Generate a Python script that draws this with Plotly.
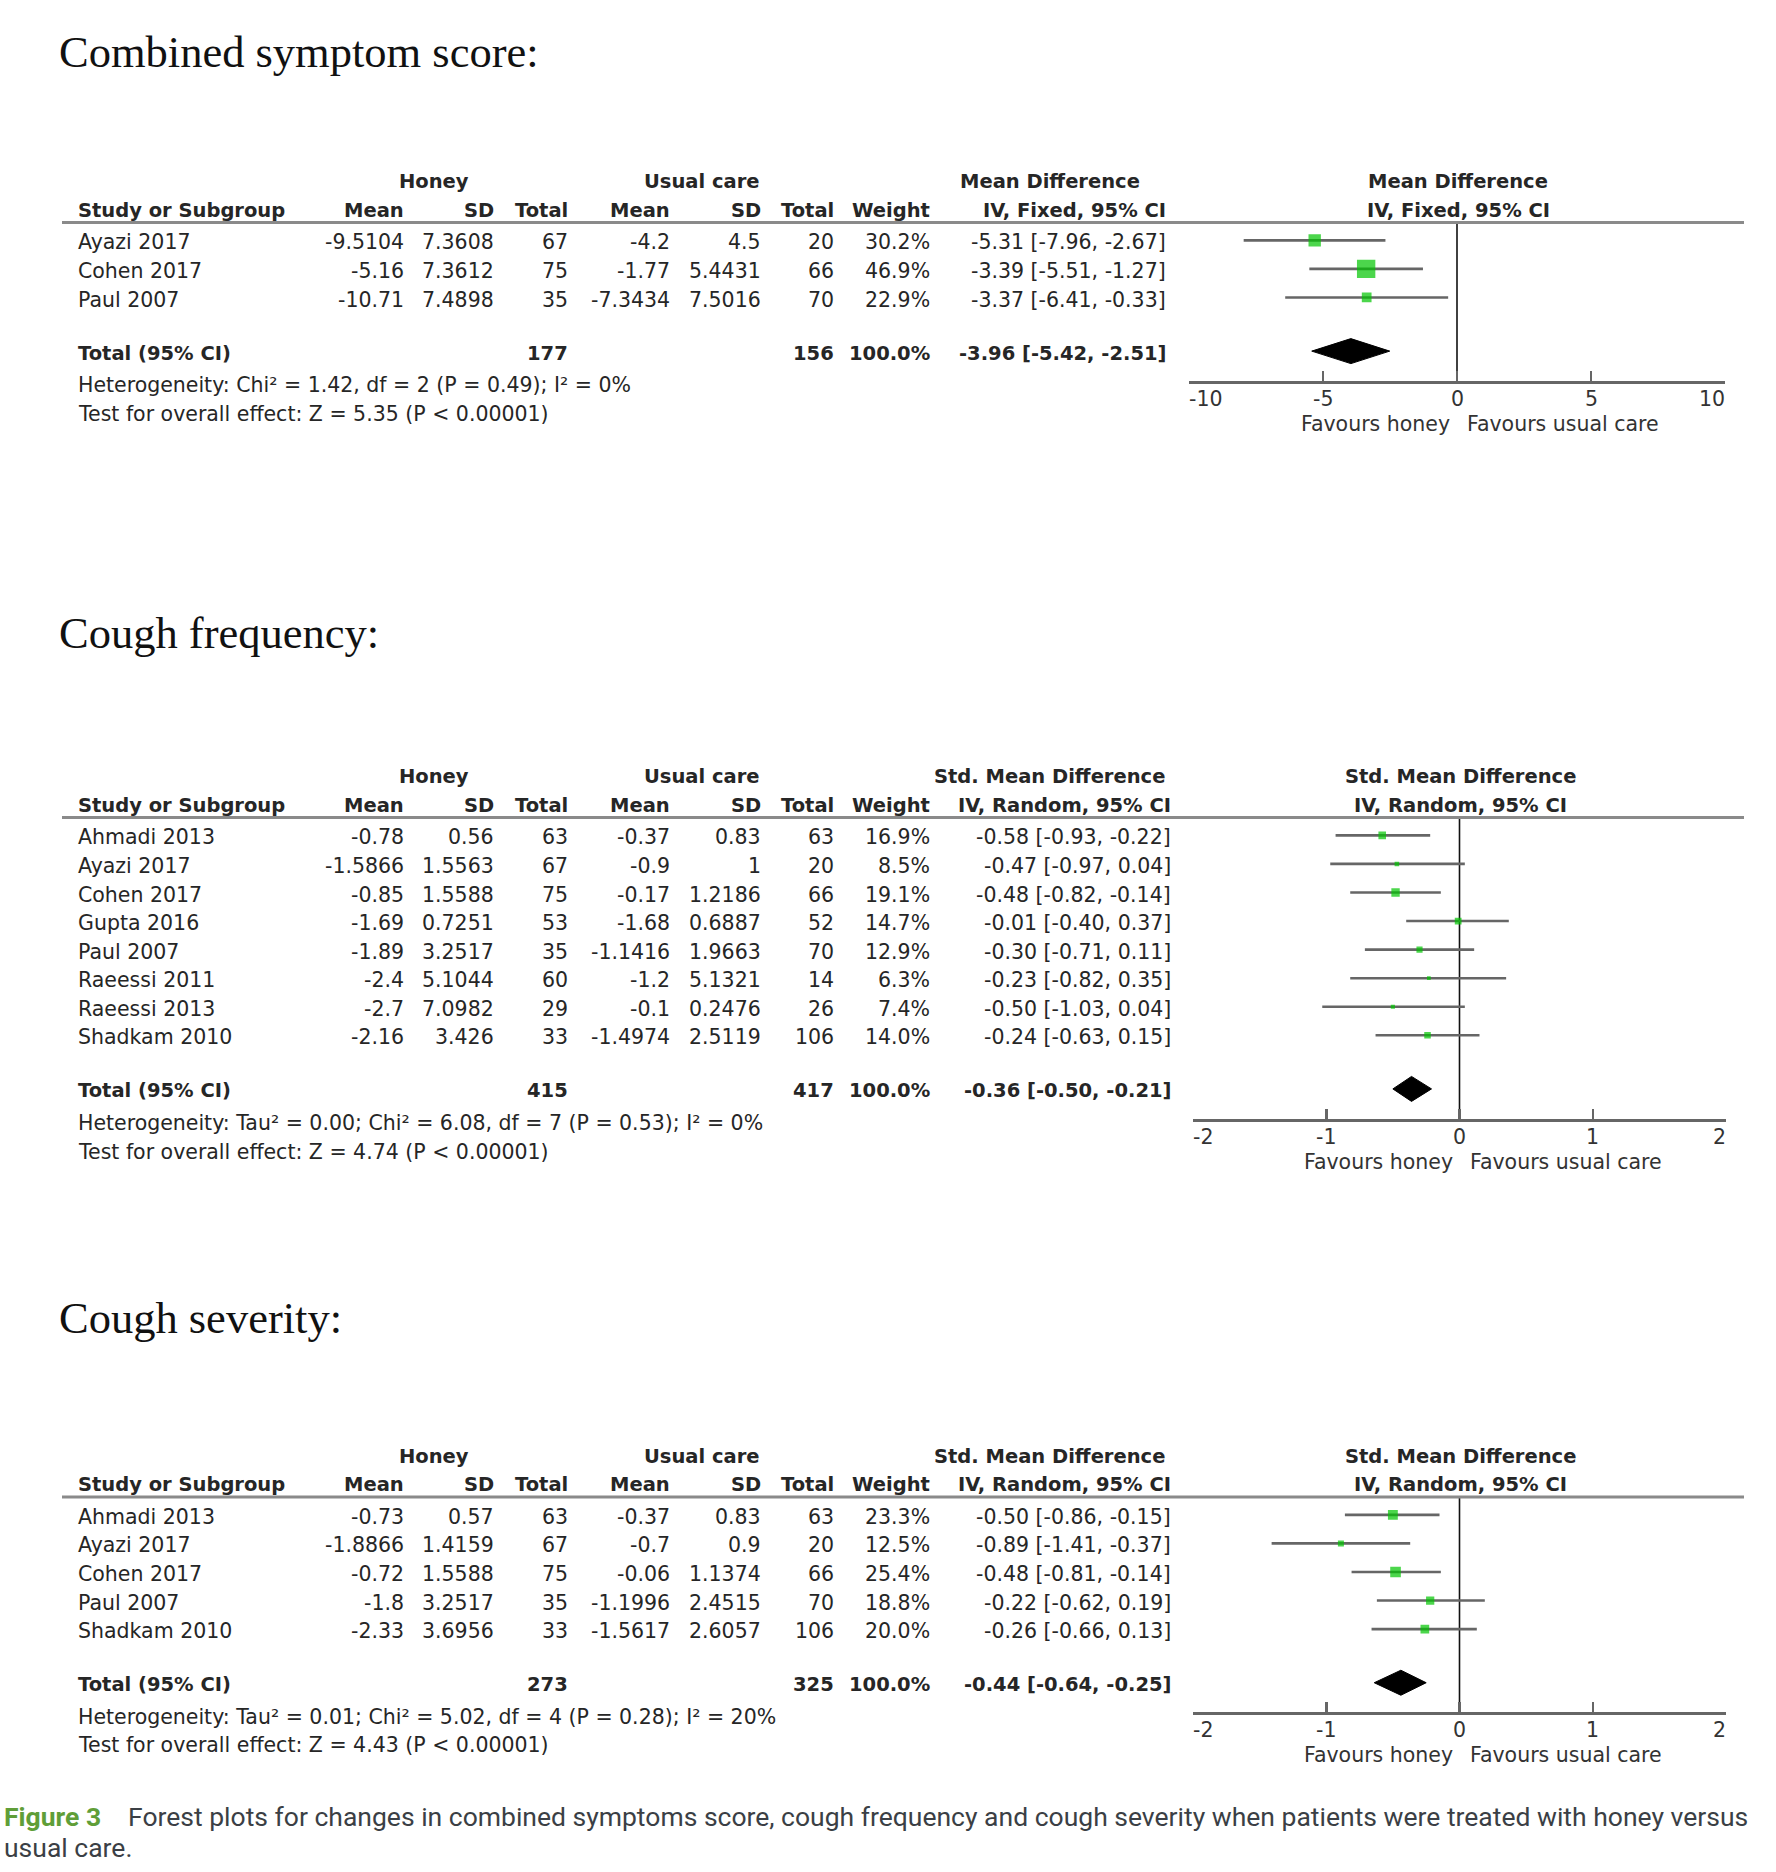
import plotly.graph_objects as go

# ---------------- data ----------------
# Panel 1: Combined symptom score (Mean Difference, IV, Fixed)
studies1 = ["Ayazi 2017", "Cohen 2017", "Paul 2007"]
honey_mean1 = [-9.5104, -5.16, -10.71]
honey_sd1 = [7.3608, 7.3612, 7.4898]
honey_n1 = [67, 75, 35]
uc_mean1 = [-4.2, -1.77, -7.3434]
uc_sd1 = [4.5, 5.4431, 7.5016]
uc_n1 = [20, 66, 70]
weight1 = [30.2, 46.9, 22.9]
est1 = [-5.31, -3.39, -3.37]
lo1 = [-7.96, -5.51, -6.41]
hi1 = [-2.67, -1.27, -0.33]
pooled1 = [-3.96, -5.42, -2.51]
het1 = "Heterogeneity: Chi² = 1.42, df = 2 (P = 0.49); I² = 0%"
test1 = "Test for overall effect: Z = 5.35 (P < 0.00001)"
ticks1 = [-10, -5, 0, 5, 10]

# Panel 2: Cough frequency (Std. Mean Difference, IV, Random)
studies2 = ["Ahmadi 2013", "Ayazi 2017", "Cohen 2017", "Gupta 2016", "Paul 2007",
            "Raeessi 2011", "Raeessi 2013", "Shadkam 2010"]
honey_mean2 = [-0.78, -1.5866, -0.85, -1.69, -1.89, -2.4, -2.7, -2.16]
honey_sd2 = [0.56, 1.5563, 1.5588, 0.7251, 3.2517, 5.1044, 7.0982, 3.426]
honey_n2 = [63, 67, 75, 53, 35, 60, 29, 33]
uc_mean2 = [-0.37, -0.9, -0.17, -1.68, -1.1416, -1.2, -0.1, -1.4974]
uc_sd2 = [0.83, 1, 1.2186, 0.6887, 1.9663, 5.1321, 0.2476, 2.5119]
uc_n2 = [63, 20, 66, 52, 70, 14, 26, 106]
weight2 = [16.9, 8.5, 19.1, 14.7, 12.9, 6.3, 7.4, 14.0]
est2 = [-0.58, -0.47, -0.48, -0.01, -0.30, -0.23, -0.50, -0.24]
lo2 = [-0.93, -0.97, -0.82, -0.40, -0.71, -0.82, -1.03, -0.63]
hi2 = [-0.22, 0.04, -0.14, 0.37, 0.11, 0.35, 0.04, 0.15]
pooled2 = [-0.36, -0.50, -0.21]
het2 = "Heterogeneity: Tau² = 0.00; Chi² = 6.08, df = 7 (P = 0.53); I² = 0%"
test2 = "Test for overall effect: Z = 4.74 (P < 0.00001)"
ticks2 = [-2, -1, 0, 1, 2]

# Panel 3: Cough severity (Std. Mean Difference, IV, Random)
studies3 = ["Ahmadi 2013", "Ayazi 2017", "Cohen 2017", "Paul 2007", "Shadkam 2010"]
honey_mean3 = [-0.73, -1.8866, -0.72, -1.8, -2.33]
honey_sd3 = [0.57, 1.4159, 1.5588, 3.2517, 3.6956]
honey_n3 = [63, 67, 75, 35, 33]
uc_mean3 = [-0.37, -0.7, -0.06, -1.1996, -1.5617]
uc_sd3 = [0.83, 0.9, 1.1374, 2.4515, 2.6057]
uc_n3 = [63, 20, 66, 70, 106]
weight3 = [23.3, 12.5, 25.4, 18.8, 20.0]
est3 = [-0.50, -0.89, -0.48, -0.22, -0.26]
lo3 = [-0.86, -1.41, -0.81, -0.62, -0.66]
hi3 = [-0.15, -0.37, -0.14, 0.19, 0.13]
pooled3 = [-0.44, -0.64, -0.25]
het3 = "Heterogeneity: Tau² = 0.01; Chi² = 5.02, df = 4 (P = 0.28); I² = 20%"
test3 = "Test for overall effect: Z = 4.43 (P < 0.00001)"
ticks3 = [-2, -1, 0, 1, 2]

total_weight = 100.0
titles = ["Combined symptom score:", "Cough frequency:", "Cough severity:"]
md_heads = ["Mean Difference", "Std. Mean Difference", "Std. Mean Difference"]
md_subs = ["IV, Fixed, 95% CI", "IV, Random, 95% CI", "IV, Random, 95% CI"]
caption_label = "Figure 3"
caption_line1 = ("Forest plots for changes in combined symptoms score, cough frequency and "
                 "cough severity when patients were treated with honey versus")
caption_line2 = "usual care."

# ---------------- layout helpers ----------------
OFF = 0
FW, FH = 1776, 1872
FONT = "DejaVu Sans"
TXT = "#262626"
FS = 20.5
FSB = 19.5
GRAY = "#666666"
GREEN = "#00c400"
ROW = 28.56


def px(x):
    return (x - OFF) / FW


def py(y):
    return 1 - (y - OFF) / FH


ann = []
shapes = []


def text(x, y, s, anchor="left", size=FS, color=TXT, family=FONT, bold=False):
    if bold:
        s = f"<b>{s}</b>"
    if anchor == "left":
        x -= 2.5
    elif anchor == "right":
        x += 1
    ann.append(dict(x=px(x), y=py(y + 2), xref="paper", yref="paper", text=s,
                    showarrow=False, xanchor=anchor, yanchor="middle",
                    font=dict(family=family, size=size, color=color)))


def fmt(v):
    return f"{v:g}"


COL = dict(study=78.5, hm=404.6, hsd=495, hn=568.8, um=671, usd=761.6, un=835.4, w=930.6)

fig = go.Figure()

panels = [
    dict(title_y=50, h1=179.7, ci_right=1167.4, xdom=(1189, 1725),
         studies=studies1, hm=honey_mean1, hsd=honey_sd1, hn=honey_n1, um=uc_mean1,
         usd=uc_sd1, un=uc_n1, w=weight1, est=est1, lo=lo1, hi=hi1, pooled=pooled1,
         het=het1, test=test1, ticks=ticks1),
    dict(title_y=631, h1=774.7, ci_right=1172, xdom=(1193, 1726),
         studies=studies2, hm=honey_mean2, hsd=honey_sd2, hn=honey_n2, um=uc_mean2,
         usd=uc_sd2, un=uc_n2, w=weight2, est=est2, lo=lo2, hi=hi2, pooled=pooled2,
         het=het2, test=test2, ticks=ticks2),
    dict(title_y=1316, h1=1454.2, ci_right=1172, xdom=(1193, 1726),
         studies=studies3, hm=honey_mean3, hsd=honey_sd3, hn=honey_n3, um=uc_mean3,
         usd=uc_sd3, un=uc_n3, w=weight3, est=est3, lo=lo3, hi=hi3, pooled=pooled3,
         het=het3, test=test3, ticks=ticks3),
]

layout_axes = {}
for k, p in enumerate(panels, start=1):
    xa = "x" if k == 1 else f"x{k}"
    ya = "y" if k == 1 else f"y{k}"
    n = len(p["studies"])
    h1 = p["h1"]
    h2 = h1 + 28.6
    rule_y = h1 + 42.8
    rows_y = [h1 + 60.7 + i * ROW for i in range(n)]
    total_y = rows_y[-1] + 53.6
    axis_y = total_y + 29.75
    tick_y = axis_y + 18
    fav_y = axis_y + 43
    het_y = total_y + 32.1
    test_y = het_y + 28.6
    t_idx = (n - 1) + 53.6 / ROW
    y_top = -17.85 / ROW
    y_bot = t_idx + 29.75 / ROW
    plot_c = (p["xdom"][0] + p["xdom"][1]) / 2 + 1

    # title
    text(59.5, p["title_y"], titles[k - 1], size=44.5, color="#111111",
         family="Liberation Serif")

    # header rows
    text(434.4, h1, "Honey", "center", FSB, bold=True)
    text(702, h1, "Usual care", "center", FSB, bold=True)
    text(1049.6, h1, md_heads[k - 1], "center", FSB, bold=True)
    text(plot_c, h1, md_heads[k - 1], "center", FSB, bold=True)
    text(COL["study"], h2, "Study or Subgroup", "left", FSB, bold=True)
    for key, lab in [("hm", "Mean"), ("hsd", "SD"), ("hn", "Total"), ("um", "Mean"),
                     ("usd", "SD"), ("un", "Total"), ("w", "Weight")]:
        text(COL[key], h2, lab, "right", FSB, bold=True)
    text(p["ci_right"], h2, md_subs[k - 1], "right", FSB, bold=True)
    text(plot_c, h2, md_subs[k - 1], "center", FSB, bold=True)

    shapes.append(dict(type="line", xref="paper", yref="paper", x0=px(62), x1=px(1744),
                       y0=py(rule_y), y1=py(rule_y), line=dict(color="#8a8a8a", width=3)))

    # study rows
    for i in range(n):
        y = rows_y[i]
        text(COL["study"], y, p["studies"][i])
        text(COL["hm"], y, fmt(p["hm"][i]), "right")
        text(COL["hsd"], y, fmt(p["hsd"][i]), "right")
        text(COL["hn"], y, str(p["hn"][i]), "right")
        text(COL["um"], y, fmt(p["um"][i]), "right")
        text(COL["usd"], y, fmt(p["usd"][i]), "right")
        text(COL["un"], y, str(p["un"][i]), "right")
        text(COL["w"], y, f"{p['w'][i]:.1f}%", "right")
        text(p["ci_right"], y, f"{p['est'][i]:.2f} [{p['lo'][i]:.2f}, {p['hi'][i]:.2f}]", "right")

    # total row
    pe, pl, ph = p["pooled"]
    text(COL["study"], total_y, "Total (95% CI)", "left", FSB, bold=True)
    text(COL["hn"], total_y, str(sum(p["hn"])), "right", FSB, bold=True)
    text(COL["un"], total_y, str(sum(p["un"])), "right", FSB, bold=True)
    text(COL["w"], total_y, f"{total_weight:.1f}%", "right", FSB, bold=True)
    text(p["ci_right"], total_y, f"{pe:.2f} [{pl:.2f}, {ph:.2f}]", "right", FSB, bold=True)
    text(COL["study"], het_y, p["het"])
    text(COL["study"], test_y, p["test"])

    # forest plot traces
    fig.add_trace(go.Scatter(x=[0, 0], y=[y_top, y_bot], mode="lines",
                             line=dict(color="#111111", width=1.6),
                             xaxis=xa, yaxis=ya, hoverinfo="skip"))
    cx, cy = [], []
    for i in range(n):
        cx += [p["lo"][i], p["hi"][i], None]
        cy += [i, i, None]
    fig.add_trace(go.Scatter(x=cx, y=cy, mode="lines", line=dict(color=GRAY, width=2.6),
                             xaxis=xa, yaxis=ya, hoverinfo="skip"))
    fig.add_trace(go.Scatter(x=p["est"], y=list(range(n)), mode="markers",
                             marker=dict(symbol="square", color=GREEN,
                                         size=[1.5 + 0.36 * wv for wv in p["w"]],
                                         line=dict(width=0)),
                             xaxis=xa, yaxis=ya, hoverinfo="skip"))
    dh = 12.5 / ROW
    fig.add_trace(go.Scatter(x=[pl, pe, ph, pe, pl], y=[t_idx, t_idx - dh, t_idx, t_idx + dh, t_idx],
                             mode="lines", fill="toself", fillcolor="black",
                             line=dict(color="black", width=1),
                             xaxis=xa, yaxis=ya, hoverinfo="skip"))

    ticks = p["ticks"]
    layout_axes["xaxis" if k == 1 else f"xaxis{k}"] = dict(
        domain=[px(p["xdom"][0]), px(p["xdom"][1])], range=[ticks[0], ticks[-1]],
        anchor=ya, showline=True, linecolor=GRAY, linewidth=3, mirror=False,
        ticks="inside", ticklen=10, tickwidth=2.5, tickcolor=GRAY,
        tickvals=ticks, showticklabels=False, showgrid=False, zeroline=False,
        fixedrange=True)
    layout_axes["yaxis" if k == 1 else f"yaxis{k}"] = dict(
        domain=[py(axis_y), py(rule_y)], range=[y_bot, y_top], anchor=xa,
        visible=False, fixedrange=True)

    for j, tv in enumerate(ticks):
        anc = "left" if j == 0 else ("right" if j == len(ticks) - 1 else "center")
        ann.append(dict(x=tv, y=py(tick_y), xref=xa, yref="paper", text=fmt(tv),
                        showarrow=False, xanchor=anc, yanchor="middle",
                        xshift=(-2 if anc == "left" else (2 if anc == "right" else 0)),
                        font=dict(family=FONT, size=FS, color="#333333")))
    ann.append(dict(x=0, y=py(fav_y), xref=xa, yref="paper", text="Favours honey",
                    showarrow=False, xanchor="right", xshift=-5, yanchor="middle",
                    font=dict(family=FONT, size=FS, color="#333333")))
    ann.append(dict(x=0, y=py(fav_y), xref=xa, yref="paper", text="Favours usual care",
                    showarrow=False, xanchor="left", xshift=8, yanchor="middle",
                    font=dict(family=FONT, size=FS, color="#333333")))

# caption
text(4.5, 1814, f"<b>{caption_label}</b>", "left", 26.5, "#5f9e38", "Roboto")
text(128.5, 1814, caption_line1, "left", 26.5, "#3b3f45", "Roboto")
text(4.5, 1845, caption_line2, "left", 26.5, "#3b3f45", "Roboto")

fig.update_layout(
    width=FW, height=FH, autosize=False,
    margin=dict(l=0, r=0, t=0, b=0, pad=0),
    paper_bgcolor="white", plot_bgcolor="white",
    showlegend=False, hovermode=False,
    annotations=ann, shapes=shapes,
    **layout_axes,
)

fig.write_html("out.html", config={"displayModeBar": False, "staticPlot": True},
               post_script="document.body.style.margin='0px';document.body.style.overflow='hidden';")
